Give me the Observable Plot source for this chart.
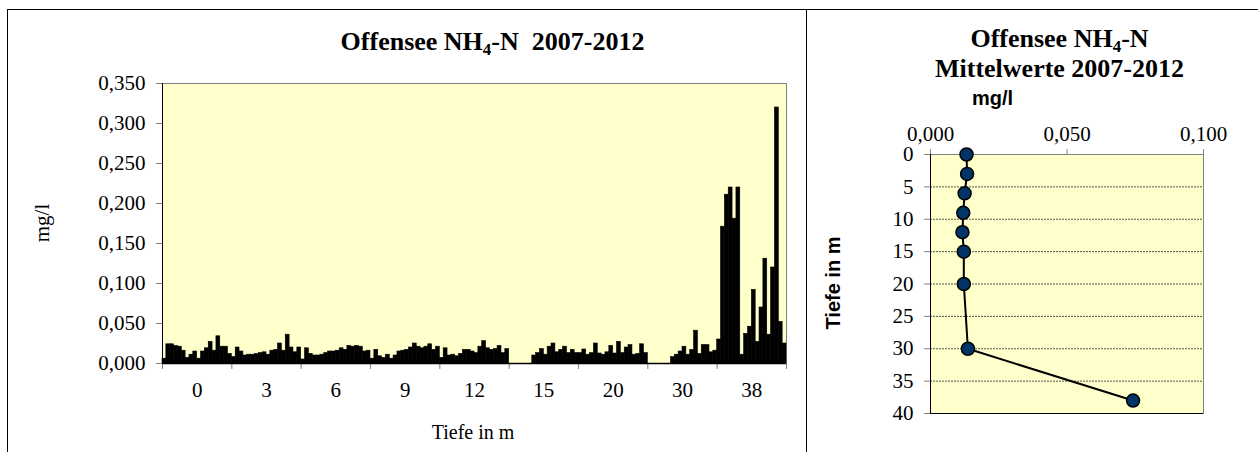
<!DOCTYPE html>
<html>
<head>
<meta charset="utf-8">
<script src="https://cdn.jsdelivr.net/npm/d3@7"></script>
<script src="https://cdn.jsdelivr.net/npm/@observablehq/plot@0.6"></script>
<style>
  html, body { margin: 0; padding: 0; background: #fff; }
  #wrap { position: relative; width: 1258px; height: 452px; overflow: hidden; background: #fff; }
  .abs { position: absolute; }
  .serif { font-family: "Liberation Serif", "Times New Roman", serif; color: #000; }
  .sans { font-family: "Liberation Sans", Arial, sans-serif; color: #000; }
  .line { position: absolute; background: #000; }
  sub.s { font-size: 65%; vertical-align: -0.28em; line-height: 0; }
</style>
</head>
<body>
<div id="wrap">
  <div id="left" class="abs" style="left:0;top:0;"></div>
  <div id="right" class="abs" style="left:806px;top:0;"></div>

  <div class="line" style="left:7px;top:9px;width:1251px;height:1px;"></div>
  <div class="line" style="left:7px;top:9px;width:1px;height:443px;"></div>
  <div class="line" style="left:806px;top:9px;width:1px;height:443px;"></div>

  <div class="abs serif" style="left:0;width:985px;top:29px;text-align:center;font-weight:bold;font-size:26px;line-height:26px;white-space:nowrap;">Offensee NH<sub class="s">4</sub>-N&nbsp; 2007-2012</div>
  <div class="abs serif" style="left:42px;top:223px;transform:translate(-50%,-50%) rotate(-90deg);font-size:21px;white-space:nowrap;">mg/l</div>
  <div class="abs serif" style="left:473px;top:432px;transform:translate(-50%,-50%);font-size:20px;white-space:nowrap;">Tiefe in m</div>

  <div class="abs serif" style="left:860px;width:399px;top:24px;text-align:center;font-weight:bold;font-size:26px;line-height:30px;white-space:nowrap;">Offensee NH<sub class="s">4</sub>-N<br>Mittelwerte 2007-2012</div>
  <div class="abs sans" style="left:972px;top:88px;font-weight:bold;font-size:20px;line-height:20px;white-space:nowrap;">mg/l</div>
  <div class="abs sans" style="left:833px;top:283px;transform:translate(-50%,-50%) rotate(-90deg);font-weight:bold;font-size:20px;white-space:nowrap;">Tiefe in m</div>
</div>
<script>
// ---- Data: individual NH4-N measurements (mg/l) 2007-2012, per depth ----
const depthLabels = ["0", "3", "6", "9", "12", "15", "20", "30", "38"];
const nh4_0m  = [0.006,0.024,0.024,0.022,0.021,0.016,0.007,0.011,0.015,0.006,0.015,0.019,0.027,0.016,0.034,0.021,0.021,0.012];
const nh4_3m  = [0.008,0.020,0.015,0.010,0.011,0.011,0.012,0.013,0.014,0.011,0.016,0.017,0.025,0.016,0.036,0.020,0.014,0.020];
const nh4_6m  = [0.005,0.019,0.012,0.010,0.010,0.011,0.013,0.015,0.015,0.016,0.019,0.017,0.022,0.021,0.022,0.021,0.015,0.016];
const nh4_9m  = [0.006,0.017,0.009,0.007,0.011,0.006,0.010,0.015,0.016,0.017,0.020,0.025,0.021,0.019,0.021,0.024,0.017,0.021];
const nh4_12m = [0.007,0.019,0.010,0.011,0.009,0.012,0.017,0.017,0.015,0.013,0.021,0.028,0.019,0.017,0.018,0.022,0.013,0.018];
const nh4_15m = [null,null,null,null,null,null,0.010,0.013,0.018,0.011,0.021,0.025,0.014,0.017,0.021,0.013,0.017,0.013];
const nh4_20m = [0.013,0.0175,0.011,0.013,0.025,0.0125,0.011,0.014,0.022,0.0125,0.027,0.013,0.020,0.023,0.011,0.012,0.024,0.013];
const nh4_30m = [null,null,null,null,null,null,0.008,0.011,0.015,0.021,0.011,0.017,0.041,0.012,0.023,0.023,0.014,0.016];
const nh4_38m = [0.030,0.171,0.211,0.220,0.181,0.220,0.011,0.037,0.046,0.092,0.027,0.070,0.131,0.036,0.120,0.320,0.052,0.025];
const yTicksLeft = [0, 0.05, 0.1, 0.15, 0.2, 0.25, 0.3, 0.35];

// ---- Data: mean profile ----
const meanDepths = [0, 3, 6, 9, 12, 15, 20, 30, 38];
const meanValues = [0.0132, 0.0134, 0.0125, 0.0120, 0.0117, 0.0122, 0.0122, 0.0137, 0.0742];
const xTicksRight = [0, 0.05, 0.1];
const yTicksRight = [0, 5, 10, 15, 20, 25, 30, 35, 40];

const series = [nh4_0m, nh4_3m, nh4_6m, nh4_9m, nh4_12m, nh4_15m, nh4_20m, nh4_30m, nh4_38m];
const perGroup = 18;
const rows = [];
series.forEach((arr, g) => arr.forEach((v, k) => rows.push({i: g * perGroup + k, depth: depthLabels[g], value: v})));
const nBars = series.length * perGroup;
const boundaries = d3.range(0, nBars + 1, perGroup);
const centers = depthLabels.map((_, g) => g * perGroup + perGroup / 2);

const fmt = d => d3.format(".3f")(d).replace(".", ",");
const serifStyle = {fontFamily: '"Liberation Serif", "Times New Roman", serif', fontSize: "21px", background: "transparent", color: "black", overflow: "visible"};

const left = Plot.plot({
  width: 806, height: 452,
  marginLeft: 162, marginRight: 20, marginTop: 83, marginBottom: 89,
  x: {domain: [0, nBars], axis: null},
  y: {domain: [0, 0.35], axis: null},
  style: serifStyle,
  marks: [
    Plot.frame({fill: "#FFFFCC", stroke: "#808080"}),
    Plot.rectY(rows, {x1: "i", x2: d => d.i + 1, y: "value", fill: "black", stroke: "black", strokeWidth: 0.6}),
    Plot.axisY({ticks: yTicksLeft, tickFormat: fmt, tickSize: 6, tickPadding: 11, label: null, stroke: "#808080"}),
    Plot.axisX({ticks: boundaries, tickFormat: () => "", tickSize: 6, label: null, stroke: "#808080"}),
    Plot.axisX({ticks: centers, tickFormat: d => depthLabels[Math.round((d - perGroup / 2) / perGroup)], tickSize: 0, tickPadding: 19, label: null}),
    Plot.ruleX([0], {stroke: "black"}),
    Plot.ruleY([0], {stroke: "black", strokeWidth: 1.5})
  ]
});
document.getElementById("left").appendChild(left);

const means = meanDepths.map((d, k) => ({depth: d, value: meanValues[k]}));
const right = Plot.plot({
  width: 452, height: 452,
  marginLeft: 124, marginRight: 55, marginTop: 154, marginBottom: 39,
  x: {domain: [0, 0.1], axis: null},
  y: {domain: [0, 40], reverse: true, axis: null},
  style: serifStyle,
  marks: [
    Plot.frame({fill: "#FFFFCC", stroke: "#808080"}),
    Plot.ruleY(yTicksRight.slice(1, -1), {stroke: "#555", strokeDasharray: "2,1", strokeWidth: 1}),
    Plot.axisX({anchor: "top", ticks: xTicksRight, tickFormat: fmt, tickSize: 6, tickPadding: 8, label: null, stroke: "#808080"}),
    Plot.axisY({ticks: yTicksRight, tickSize: 6, tickPadding: 11, label: null, stroke: "#808080"}),
    Plot.ruleX([0], {stroke: "black"}),
    Plot.ruleY([40], {stroke: "black"}),
    Plot.line(means, {x: "value", y: "depth", stroke: "black", strokeWidth: 2}),
    Plot.dot(means, {x: "value", y: "depth", r: 6.5, fill: "#003366", stroke: "black", strokeWidth: 1.5})
  ]
});
document.getElementById("right").appendChild(right);
</script>
</body>
</html>
